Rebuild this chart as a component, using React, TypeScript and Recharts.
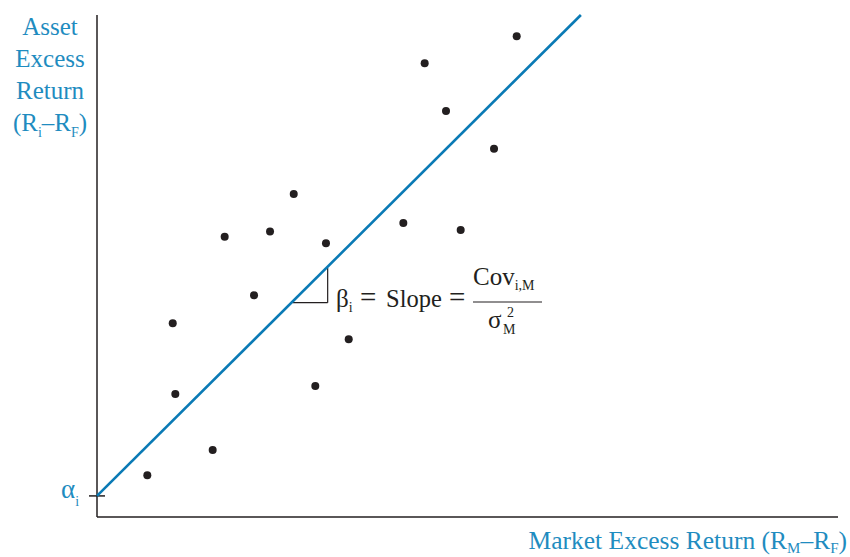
import React from 'react';
import { ComposedChart, Scatter, XAxis, YAxis, ReferenceLine, Customized } from 'recharts';

// Observations (market excess return, asset excess return), in arbitrary units
const marketExcess = [6.79, 10.22, 10.57, 15.61, 17.23, 21.19, 23.35, 26.55, 29.46, 30.9, 33.97, 41.34, 44.22, 47.1, 49.08, 53.58, 56.64];
const assetExcess = [8.31, 38.59, 24.5, 13.35, 55.84, 44.16, 56.85, 64.34, 26.1, 54.52, 35.4, 58.57, 90.38, 80.88, 57.17, 73.37, 95.76];

// Regression (characteristic) line end points
const lineStart = { x: 0, y: 4.2 };
const lineEnd = { x: 65.3, y: 100 };

// Slope triangle
const triLeftX = 26.4;
const triRightX = 31.13;
const triBottomY = 42.69;
const triTopY = 49.6;

// Axis extents
const xDomain = [0, 100];
const yDomain = [0, 100];
const tickHalf = 1.08;

const points = marketExcess.map((x, i) => ({ x, y: assetExcess[i] }));

const BLUE_LINE = '#0a7ab5';
const BLUE_TEXT = '#1f8cc0';
const INK = '#231f20';
const FONT = '"Liberation Serif", "Times New Roman", serif';

const Dot = (props: any) => <circle cx={props.cx} cy={props.cy} r={4} fill={INK} />;

const Labels = () => (
  <g fontFamily={FONT}>
    <g fill={BLUE_TEXT} fontSize={25} textAnchor="middle">
      <text x={50} y={35}>Asset</text>
      <text x={50} y={67}>Excess</text>
      <text x={50} y={99}>Return</text>
      <text x={50} y={131}>
        (R<tspan fontSize={14} dy={6}>i</tspan>
        <tspan dy={-6}>–R</tspan>
        <tspan fontSize={14} dy={6}>F</tspan>
        <tspan dy={-6}>)</tspan>
      </text>
    </g>
    <text x={847} y={549} fill={BLUE_TEXT} fontSize={25.5} textAnchor="end">
      Market Excess Return (R<tspan fontSize={15} dy={4}>M</tspan>
      <tspan dy={-4}>–R</tspan>
      <tspan fontSize={15} dy={4}>F</tspan>
      <tspan dy={-4}>)</tspan>
    </text>
    <text x={61} y={498} fill={BLUE_TEXT} fontSize={27}>
      α<tspan fontSize={14} dy={8}>i</tspan>
    </text>
    <g fill={INK}>
      <text x={336} y={307} fontSize={25}>
        β<tspan fontSize={14} dy={5}>i</tspan>
      </text>
      <text x={360} y={307} fontSize={29}>=</text>
      <text x={386} y={307} fontSize={24.5}>Slope</text>
      <text x={449} y={307} fontSize={29}>=</text>
      <text x={473} y={285} fontSize={25}>
        Cov<tspan fontSize={14} dy={5}>i,M</tspan>
      </text>
      <line x1={473} x2={542} y1={302} y2={302} stroke={INK} strokeWidth={1.2} />
      <text x={488} y={328} fontSize={25}>σ</text>
      <text x={507} y={317} fontSize={14}>2</text>
      <text x={503} y={334} fontSize={14}>M</text>
    </g>
  </g>
);

export default function App() {
  return (
    <div style={{ position: 'absolute', left: 0, top: 0, background: '#fff' }}>
      <ComposedChart width={850} height={557} margin={{ top: 15, right: 12, bottom: 40, left: 97 }}>
        <XAxis type="number" dataKey="x" domain={xDomain} hide allowDataOverflow />
        <YAxis type="number" dataKey="y" domain={yDomain} hide allowDataOverflow />
        <ReferenceLine segment={[{ x: xDomain[0], y: yDomain[0] }, { x: xDomain[1], y: yDomain[0] }]} stroke={INK} strokeWidth={1.5} ifOverflow="visible" />
        <ReferenceLine segment={[{ x: xDomain[0], y: yDomain[0] }, { x: xDomain[0], y: yDomain[1] }]} stroke={INK} strokeWidth={1.5} ifOverflow="visible" />
        <ReferenceLine segment={[{ x: -tickHalf, y: lineStart.y }, { x: tickHalf, y: lineStart.y }]} stroke={INK} strokeWidth={1.5} ifOverflow="visible" />
        <ReferenceLine segment={[{ x: triLeftX, y: triBottomY }, { x: triRightX, y: triBottomY }]} stroke={INK} strokeWidth={1.2} ifOverflow="visible" />
        <ReferenceLine segment={[{ x: triRightX, y: triBottomY }, { x: triRightX, y: triTopY }]} stroke={INK} strokeWidth={1.2} ifOverflow="visible" />
        <ReferenceLine segment={[lineStart, lineEnd]} stroke={BLUE_LINE} strokeWidth={2.6} ifOverflow="visible" />
        <Scatter data={points} dataKey="y" shape={Dot} isAnimationActive={false} />
        <Customized component={Labels} />
      </ComposedChart>
    </div>
  );
}
